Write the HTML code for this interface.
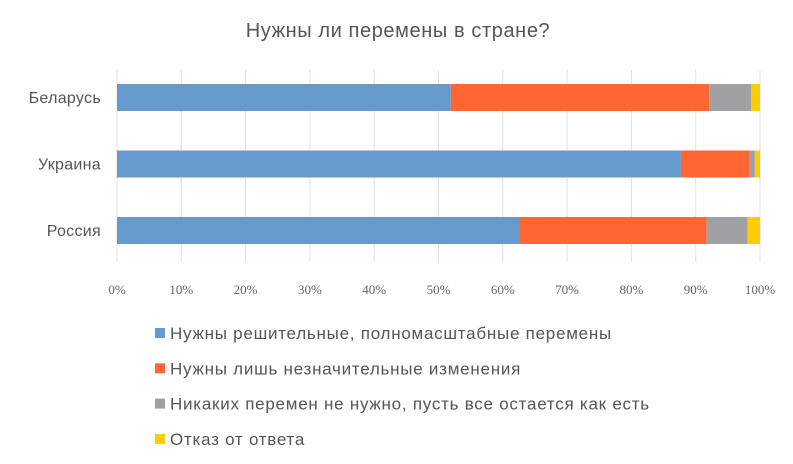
<!DOCTYPE html>
<html><head><meta charset="utf-8"><style>
body{margin:0;background:#fff;width:793px;height:464px;overflow:hidden}
svg{display:block}
</style></head><body>
<svg width="793" height="464" xmlns="http://www.w3.org/2000/svg">
<text x="398" y="37" text-anchor="middle" font-family="Liberation Sans, sans-serif" font-size="20" letter-spacing="0.6" fill="#555">Нужны ли перемены в стране?</text>
<g id="grid"></g><g id="bars"></g><g id="ticks"></g><g id="cats"></g><g id="legend"></g>
</svg>
<script>
const categories=["Беларусь","Украина","Россия"];
const decisive=[51.9,87.7,62.6];
const minor=[40.2,10.7,29.1];
const none=[6.5,0.8,6.4];
const refused=[1.4,0.8,1.9];
const tickLabels=["0%","10%","20%","30%","40%","50%","60%","70%","80%","90%","100%"];
const tickValues=[0,10,20,30,40,50,60,70,80,90,100];
const seriesNames=["Нужны решительные, полномасштабные перемены","Нужны лишь незначительные изменения","Никаких перемен не нужно, пусть все остается как есть","Отказ от ответа"];
const colors=["#6699cc","#ff6633","#a0a0a4","#ffcc00"];
const NS="http://www.w3.org/2000/svg";
const x0=117,x1=760;
const xs=v=>x0+(x1-x0)*v/100;
const rowY=i=>97+i*66.5;
function mk(t,a,p){const e=document.createElementNS(NS,t);for(const k in a)e.setAttribute(k,a[k]);p.appendChild(e);return e;}
const grid=document.getElementById('grid'),bars=document.getElementById('bars'),ticks=document.getElementById('ticks'),cats=document.getElementById('cats'),legend=document.getElementById('legend');
tickValues.forEach((v,i)=>{
 const l=mk('line',{x1:xs(v),x2:xs(v),y1:70,y2:262,stroke:'#e2e2e2','stroke-width':1},grid);
 
 
 const t=mk('text',{x:xs(v),y:294,'text-anchor':'middle','font-family':'Liberation Serif, serif','font-size':13,fill:'#666'},ticks);
 t.textContent=tickLabels[i];
 
 
});
const series=[decisive,minor,none,refused];
categories.forEach((c,i)=>{
 let acc=0;const y=rowY(i)-13;
 series.forEach((s,j)=>{
  const r=mk('rect',{x:xs(acc),y:y,width:xs(acc+s[i])-xs(acc),height:27,fill:colors[j]},bars);
  
  
  acc+=s[i];
 });
 const t=mk('text',{x:101,y:rowY(i)+6,'text-anchor':'end','font-family':'Liberation Sans, sans-serif','font-size':16,'letter-spacing':0.3,fill:'#555'},cats);
 t.textContent=c;
 
 
});
seriesNames.forEach((n,j)=>{
 const y=333+j*35.3;
 const r=mk('rect',{x:155,y:y-5,width:10,height:10,fill:colors[j]},legend);
 
 
 const t=mk('text',{x:170,y:y+6,'font-family':'Liberation Sans, sans-serif','font-size':17,'letter-spacing':0.75,fill:'#555'},legend);
 t.textContent=n;
 
 
});
</script>
</body></html>
